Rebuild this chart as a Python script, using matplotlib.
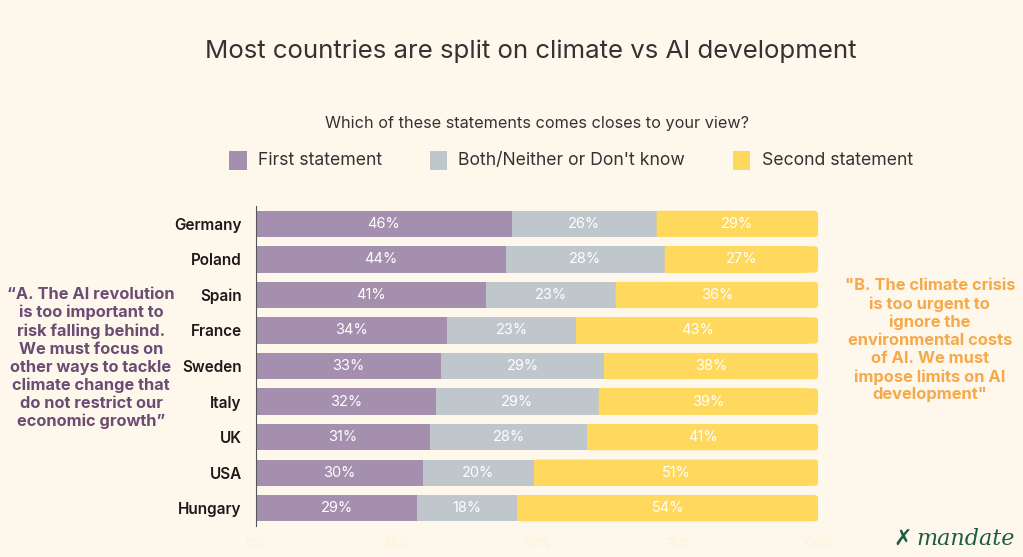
import matplotlib.pyplot as plt
from matplotlib.patches import FancyBboxPatch

countries = ["Germany", "Poland", "Spain", "France", "Sweden", "Italy", "UK", "USA", "Hungary"]
first = [46, 44, 41, 34, 33, 32, 31, 30, 29]
both = [26, 28, 23, 23, 29, 29, 28, 20, 18]
second = [29, 27, 36, 43, 38, 39, 41, 51, 54]
series_names = ["First statement", "Both/Neither or Don't know", "Second statement"]
x_ticks = [0, 25, 50, 75, 100]

bg = "#FEF8EC"
colors = ["#A48FAE", "#BFC6CC", "#FFD85E"]

plt.rcParams["font.family"] = ["Inter", "DejaVu Sans"]

fig = plt.figure(figsize=(10.23, 5.57), dpi=100, facecolor=bg)
ax = fig.add_axes([0.250, 0.0557, 0.5496, 0.5743])
ax.set_facecolor(bg)

ypos = list(range(len(countries)))
h = 0.74
for i, c in enumerate(countries):
    vals = [first[i], both[i], second[i]]
    total = sum(vals)
    # scale so each bar fills to 100
    scaled = [v * 100.0 / total for v in vals]
    left = 0
    for j, v in enumerate(scaled):
        if j == 2:
            patch = FancyBboxPatch((left, i - h / 2), v, h,
                                   boxstyle="round,pad=0,rounding_size=0.6",
                                   mutation_aspect=0.16, fc=colors[j], ec="none")
            ax.add_patch(patch)
            ax.barh(i, v - 2, left=left, height=h, color=colors[j], lw=0)
        else:
            ax.barh(i, v, left=left, height=h, color=colors[j], lw=0)
        ax.text(left + v / 2, i, f"{vals[j]}%", ha="center", va="center",
                color="white", fontsize=10.5)
        left += v

ax.set_xlim(0, 100)
ax.set_ylim(len(countries) - 0.5, -0.5)
ax.set_yticks(ypos)
ax.set_yticklabels(countries, fontsize=11, fontweight="semibold", color="#1a1a1a")
ax.set_xticks(x_ticks)
ax.set_xticklabels([f"{t}%" for t in x_ticks], fontsize=9, color="#FFF1D8")
ax.tick_params(axis="y", length=0, pad=10)
ax.tick_params(axis="x", length=0, pad=9)
for s in ["top", "right", "bottom"]:
    ax.spines[s].set_visible(False)
ax.spines["left"].set_color("#555555")
ax.spines["left"].set_linewidth(0.8)

fig.text(0.519, 0.908, "Most countries are split on climate vs AI development",
         ha="center", va="center", fontsize=18.6, color="#333333")
fig.text(0.525, 0.779, "Which of these statements comes closes to your view?",
         ha="center", va="center", fontsize=11.7, color="#333333")

# legend
leg_x = [0.224, 0.420, 0.7165]
for x, name, col in zip(leg_x, series_names, colors):
    fig.patches.append(plt.Rectangle((x, 0.695), 0.017, 0.034, transform=fig.transFigure,
                                     fc=col, ec="none"))
    fig.text(x + 0.028, 0.712, name, ha="left", va="center", fontsize=12.7, color="#333333")

left_quote = ("\u201cA. The AI revolution\nis too important to\nrisk falling behind.\n"
              "We must focus on\nother ways to tackle\nclimate change that\n"
              "do not restrict our\neconomic growth\u201d")
right_quote = ("\"B. The climate crisis\nis too urgent to\nignore the\nenvironmental costs\n"
               "of AI. We must\nimpose limits on AI\ndevelopment\"")
fig.text(0.089, 0.357, left_quote, ha="center", va="center", fontsize=11.8,
         fontweight="bold", color="#6B4C74", linespacing=1.24)
fig.text(0.909, 0.389, right_quote, ha="center", va="center", fontsize=11.9,
         fontweight="bold", color="#F6A94A", linespacing=1.24)

# logo
fig.text(0.882, 0.032, "\u2717", ha="center", va="center", fontsize=16,
         color="#1F5C45", family=["DejaVu Sans"], fontweight="bold")
fig.text(0.896, 0.032, "mandate", ha="left", va="center", fontsize=16,
         color="#1F5C45", family=["DejaVu Serif"], style="italic")

fig.savefig("out.png", dpi=100, facecolor=bg)
